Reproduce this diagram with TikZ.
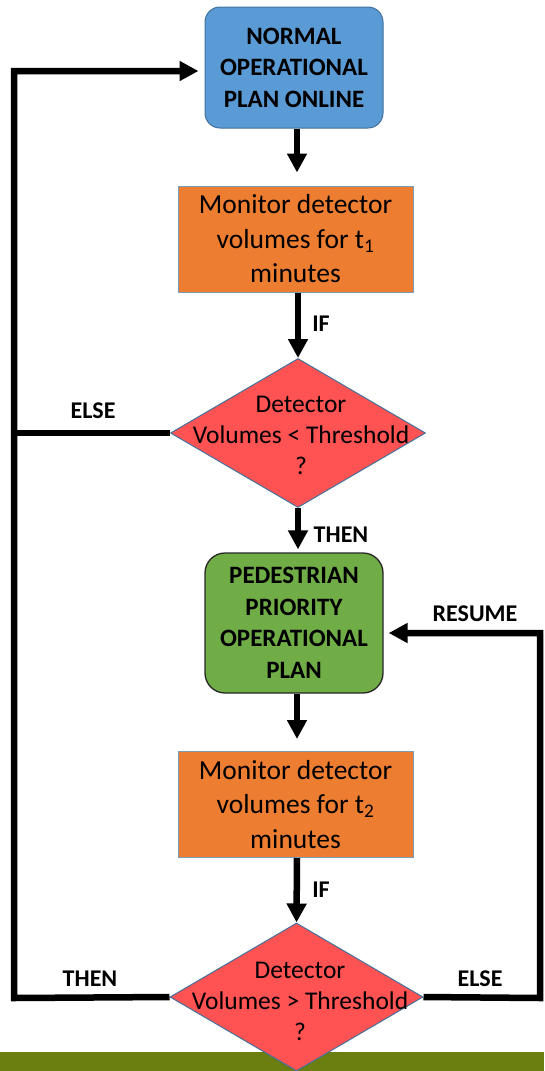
\documentclass[tikz,border=0pt]{standalone}
\usepackage{fontspec}
\setmainfont{Carlito}
\usetikzlibrary{arrows.meta,shapes.geometric,calc}

\definecolor{planblue}{HTML}{5B9BD5}
\definecolor{edgeblue}{HTML}{41719C}
\definecolor{monorange}{HTML}{ED7D31}
\definecolor{decred}{HTML}{FF5252}
\definecolor{pedgreen}{HTML}{70AD47}
\definecolor{baroliv}{HTML}{6B7F10}

\tikzset{
  planbox/.style={rectangle, rounded corners=#1, draw, line width=1pt,
    align=center, font=\bfseries\fontsize{25}{31.5}\selectfont, inner sep=0pt},
  monbox/.style={rectangle, draw=edgeblue!70, line width=1pt, fill=monorange,
    minimum width=235pt, minimum height=106pt, align=center, inner sep=0pt,
    font=\fontsize{27.5}{34.5}\selectfont},
  decision/.style={diamond, draw=edgeblue, line width=1pt, fill=decred,
    minimum width=255pt, minimum height=149pt, inner sep=0pt, text width=0pt},
  dectext/.style={align=center, inner sep=0pt, font=\fontsize{25.5}{31}\selectfont},
  flowlabel/.style={inner sep=0pt, font=\bfseries\fontsize{24}{28}\selectfont},
  flow/.style={line width=6.5pt, line join=miter},
  arr/.style={flow, -{Triangle[length=19pt,width=19pt]}},
}

\begin{document}
\begin{tikzpicture}[x=1pt, y=-1pt]
\useasboundingbox (0,0) rectangle (544,1071);

% footer band
\fill[baroliv] (0,1052) rectangle (544,1071);

% process boxes
\node[planbox=15pt, fill=planblue, draw=edgeblue, minimum width=178pt, minimum height=121pt]
  (normal) at (294,67.5) {NORMAL\\OPERATIONAL\\PLAN ONLINE};
\node[monbox] (mon1) at (295.5,239) {Monitor detector\\volumes for t\textsubscript{1}\\minutes};
\node[decision] (dec1) at (298,433) {};
\node[dectext] (dec1t) at (301,435) {Detector\\Volumes < Threshold\\?};
\node[planbox=20pt, fill=pedgreen, draw=black!85, line width=1.3pt, minimum width=178pt, minimum height=140pt]
  (ped) at (294,623) {PEDESTRIAN\\PRIORITY\\OPERATIONAL\\PLAN};
\node[monbox] (mon2) at (295.5,804.5) {Monitor detector\\volumes for t\textsubscript{2}\\minutes};
\node[decision, minimum width=253pt, minimum height=148pt] (dec2) at (296.5,997) {};
\node[dectext] (dec2t) at (300,1001.5) {Detector\\Volumes > Threshold\\?};

% loop corners
\coordinate (tl) at (14,71);
\coordinate (bl) at (14,998);
\coordinate (br) at (540,998);
\coordinate (tr) at (540,633);

% main sequence
\draw[arr, shorten >=13pt] (normal.south -| 297,0) -- (mon1.north -| 297,0);
\draw[arr] (mon1.south -| 298,0) -- (dec1.north);
\draw[arr, shorten >=3pt] (dec1.south) -- (ped.north -| dec1.south);
\draw[arr, shorten >=12pt] (ped.south -| 297,0) -- (mon2.north -| 297,0);
\draw[arr] (mon2.south -| 297,0) -- (dec2.north);

% return paths
\draw[arr, shorten >=6pt] (dec2.west) -- (bl) -- (tl) -- (tl -| normal.west);
\draw[flow] (dec1.west) -- (dec1.west -| tl);
\draw[arr, shorten >=5pt] (dec2.east) -- (br) -- (tr) -- (tr -| ped.east);

% connector labels
\node[flowlabel] (if1) at (321,324) {IF};
\node[flowlabel] (then1) at (341,535) {THEN};
\node[flowlabel] (else1) at (93,411) {ELSE};
\node[flowlabel] (resume) at (475,614) {RESUME};
\node[flowlabel] (if2) at (321,890) {IF};
\node[flowlabel] (then2) at (90,979) {THEN};
\node[flowlabel] (else2) at (480,979) {ELSE};
\end{tikzpicture}
\end{document}
